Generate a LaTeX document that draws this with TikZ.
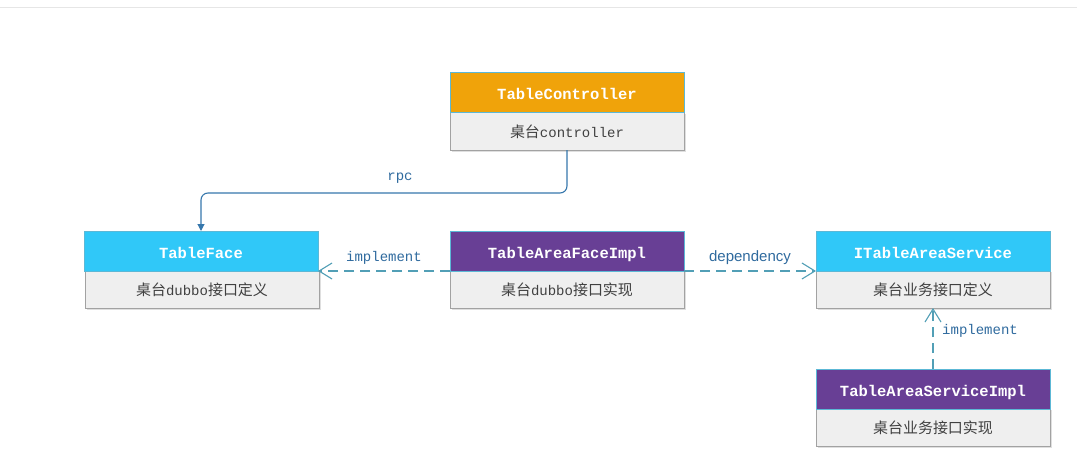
\documentclass[tikz,border=0pt]{standalone}
\usepackage{fontspec}
\setmonofont{Liberation Mono}
\setsansfont{Liberation Sans}
\newfontfamily\cjk[Scale=1.07]{Noto Sans CJK SC}
\usetikzlibrary{arrows.meta,shadows}
\definecolor{hdorange}{HTML}{F0A30A}
\definecolor{hdcyan}{HTML}{30C8F8}
\definecolor{hdpurple}{HTML}{683F95}
\definecolor{hdborder}{HTML}{5CB8D6}
\definecolor{bdfill}{HTML}{EFEFEF}
\definecolor{bdborder}{HTML}{A2A2A2}
\definecolor{bdtext}{HTML}{404040}
\definecolor{lbblue}{HTML}{2F6A9E}
\definecolor{rpcline}{HTML}{3677AC}
\definecolor{dashline}{HTML}{529FB6}
\definecolor{topline}{HTML}{E6E6E6}
\newcommand{\zh}[1]{{\cjk #1}}
\begin{document}
\begin{tikzpicture}[x=1pt,y=-1pt,
  header/.style={draw=hdborder, line width=0.8pt, inner sep=0pt, outer sep=0pt,
    minimum width=234pt, minimum height=40pt, anchor=north west,
    text height=15pt, text depth=0pt,
    text=white, font=\ttfamily\bfseries\fontsize{15.5}{18}\selectfont},
  body/.style={draw=bdborder, fill=bdfill, line width=0.8pt, inner sep=0pt, outer sep=0pt,
    minimum width=234pt, minimum height=38pt, anchor=north,
    text height=14pt, text depth=1pt,
    text=bdtext, font=\ttfamily\fontsize{14}{17}\selectfont,
    drop shadow={shadow xshift=1.5pt, shadow yshift=-1.5pt, opacity=0.25, fill=gray}},
  lbl/.style={text=lbblue, font=\ttfamily\fontsize{14}{17}\selectfont, inner sep=0pt},
  rpcarrow/.style={draw=rpcline, line width=1.1pt, rounded corners=7pt,
    -{Triangle[length=7pt,width=7pt]}},
  dasharrow/.style={draw=dashline, line width=1.3pt, dash pattern=on 10pt off 6pt,
    -{Straight Barb[length=13pt,width=16pt,line width=1.1pt]}}
]
\path[use as bounding box] (0,0) rectangle (1077,463);
\draw[topline, line width=1pt] (0,7) -- (1077,7);

% TableController
\node[body] (tcb) at (567,112) {\zh{桌台}controller};
\node[header, fill=hdorange] (tc) at (450,72) {TableController};

% TableFace
\node[body] (tfb) at (202,270) {\zh{桌台}dubbo\zh{接口定义}};
\node[header, fill=hdcyan] (tf) at (84,231) {TableFace};

% TableAreaFaceImpl
\node[body] (tib) at (567,270) {\zh{桌台}dubbo\zh{接口实现}};
\node[header, fill=hdpurple] (ti) at (450,231) {TableAreaFaceImpl};

% ITableAreaService
\node[body] (isb) at (933,270) {\zh{桌台业务接口定义}};
\node[header, fill=hdcyan] (is) at (816,231) {ITableAreaService};

% TableAreaServiceImpl
\node[body] (sib) at (933,408) {\zh{桌台业务接口实现}};
\node[header, fill=hdpurple] (si) at (816,369) {TableAreaServiceImpl};

% connectors
\draw[rpcarrow] (tcb.south) -- (tcb.south |- 0,193) -- (tf.north |- 0,193) -- (tf.north);
\node[lbl] (lrpc) at (400,178) {rpc};

\draw[dasharrow] (ti.south west) -- (tf.south east);
\node[lbl] (limp1) at (384,258) {implement};

\draw[dasharrow] (ti.south east) -- (is.south west);
\node[lbl, font=\sffamily\fontsize{15}{18}\selectfont] (ldep) at (750,258) {dependency};

\draw[dasharrow] (si.north) -- (isb.south);
\node[lbl] (limp2) at (980,331) {implement};
\end{tikzpicture}
\end{document}
